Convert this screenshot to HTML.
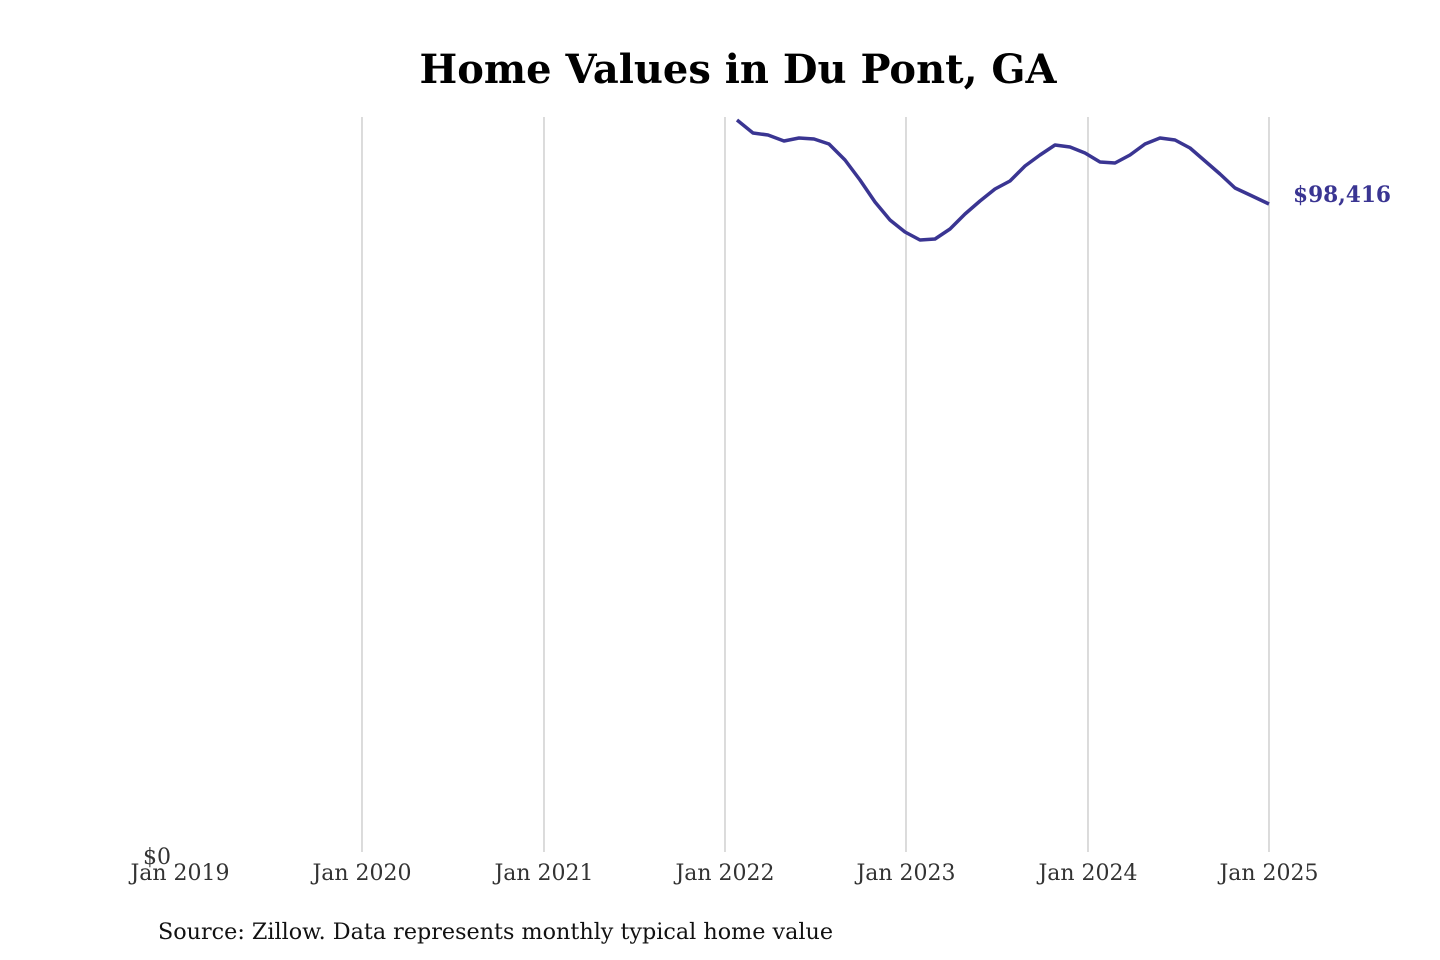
<!DOCTYPE html>
<html><head><style>
body{margin:0;background:#fff;}
svg{display:block;font-family:"DejaVu Serif","Liberation Serif",serif;}
</style></head><body>
<svg width="1440" height="960" viewBox="0 0 1440 960">
<text x="738" y="83" text-anchor="middle" font-size="40" font-weight="bold" fill="#000" textLength="637" lengthAdjust="spacingAndGlyphs">Home Values in Du Pont, GA</text>
<g stroke="#c8c8c8" stroke-width="1.3">
<line x1="362" y1="117" x2="362" y2="852"/>
<line x1="544" y1="117" x2="544" y2="852"/>
<line x1="725" y1="117" x2="725" y2="852"/>
<line x1="906" y1="117" x2="906" y2="852"/>
<line x1="1088" y1="117" x2="1088" y2="852"/>
<line x1="1269" y1="117" x2="1269" y2="852"/>
</g>
<g font-size="22" fill="#333" text-anchor="middle">
<text x="180" y="880">Jan 2019</text>
<text x="362" y="880">Jan 2020</text>
<text x="544" y="880">Jan 2021</text>
<text x="725" y="880">Jan 2022</text>
<text x="906" y="880">Jan 2023</text>
<text x="1088" y="880">Jan 2024</text>
<text x="1269" y="880">Jan 2025</text>
<text x="157" y="864">$0</text>
</g>
<polyline fill="none" stroke="#3a3592" stroke-width="3.5" stroke-linejoin="round" points="737,120 753,133 768,135 784,141 799,138 814,139 829,144 845,160 860,180 875,202 890,220 905,232 920,240 935,239 950,229 965,214 980,201 995,189 1010,181 1025,166 1040,155 1055,145 1070,147 1085,153 1100,162 1115,163 1130,155 1145,144 1160,138 1175,140 1190,148 1205,161 1220,174 1235,188 1250,195 1269,204"/>
<text x="1293" y="202" font-size="22" font-weight="bold" fill="#3a3592" textLength="98" lengthAdjust="spacingAndGlyphs">$98,416</text>
<text x="158" y="939" font-size="22" fill="#111" textLength="675" lengthAdjust="spacingAndGlyphs">Source: Zillow. Data represents monthly typical home value</text>
</svg>
</body></html>
